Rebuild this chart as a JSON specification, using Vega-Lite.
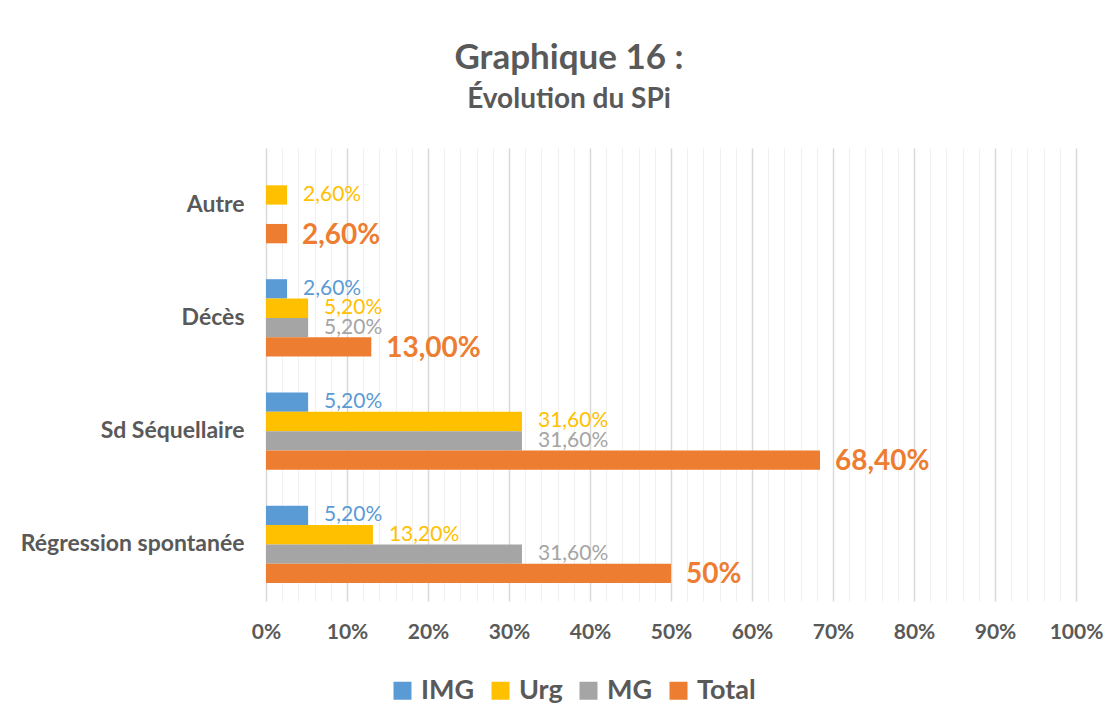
{
  "$schema": "https://vega.github.io/schema/vega-lite/v6.json",
  "autosize": {"type": "none"},
  "width": 810,
  "height": 453,
  "padding": {"left": 266, "top": 148, "right": 42, "bottom": 122},
  "background": "white",
  "title": {
    "text": "Graphique 16 :",
    "subtitle": "Évolution du SPi",
    "anchor": "middle",
    "dx": -102,
    "offset": 34,
    "font": "Lato",
    "fontSize": 35,
    "fontWeight": "bold",
    "color": "#595959",
    "subtitleFont": "Lato",
    "subtitleFontSize": 28,
    "subtitleFontWeight": "bold",
    "subtitleColor": "#595959",
    "subtitlePadding": 10
  },
  "data": {
    "values": [
      {"cat": "Autre", "serie": "Urg", "val": 2.6, "label": "2,60%"},
      {"cat": "Autre", "serie": "Total", "val": 2.6, "label": "2,60%"},
      {"cat": "Décès", "serie": "IMG", "val": 2.6, "label": "2,60%"},
      {"cat": "Décès", "serie": "Urg", "val": 5.2, "label": "5,20%"},
      {"cat": "Décès", "serie": "MG", "val": 5.2, "label": "5,20%"},
      {"cat": "Décès", "serie": "Total", "val": 13.0, "label": "13,00%"},
      {"cat": "Sd Séquellaire", "serie": "IMG", "val": 5.2, "label": "5,20%"},
      {"cat": "Sd Séquellaire", "serie": "Urg", "val": 31.6, "label": "31,60%"},
      {"cat": "Sd Séquellaire", "serie": "MG", "val": 31.6, "label": "31,60%"},
      {"cat": "Sd Séquellaire", "serie": "Total", "val": 68.4, "label": "68,40%"},
      {"cat": "Régression spontanée", "serie": "IMG", "val": 5.2, "label": "5,20%"},
      {"cat": "Régression spontanée", "serie": "Urg", "val": 13.2, "label": "13,20%"},
      {"cat": "Régression spontanée", "serie": "MG", "val": 31.6, "label": "31,60%"},
      {"cat": "Régression spontanée", "serie": "Total", "val": 50, "label": "50%"}
    ]
  },
  "encoding": {
    "y": {
      "field": "cat",
      "type": "nominal",
      "sort": ["Autre", "Décès", "Sd Séquellaire", "Régression spontanée"],
      "scale": {"paddingInner": 0.317, "paddingOuter": 0.1585},
      "axis": {
        "title": null,
        "domain": false,
        "ticks": false,
        "labelPadding": 22,
        "labelFont": "Lato",
        "labelFontSize": 23,
        "labelFontWeight": "bold",
        "labelColor": "#595959",
        "labelLimit": 400
      }
    },
    "yOffset": {
      "field": "serie",
      "type": "nominal",
      "scale": {"domain": ["IMG", "Urg", "MG", "Total"], "paddingInner": 0, "paddingOuter": 0}
    },
    "x": {
      "field": "val",
      "type": "quantitative",
      "scale": {"domain": [0, 100], "nice": false},
      "axis": {
        "title": null,
        "values": [0,2,4,6,8,10,12,14,16,18,20,22,24,26,28,30,32,34,36,38,40,42,44,46,48,50,52,54,56,58,60,62,64,66,68,70,72,74,76,78,80,82,84,86,88,90,92,94,96,98,100],
        "labelExpr": "datum.value % 10 === 0 ? datum.value + '%' : ''",
        "domain": false,
        "ticks": false,
        "grid": true,
        "gridColor": {"condition": {"test": "datum.value % 10 === 0", "value": "#d9d9d9"}, "value": "#f0f0f0"},
        "gridWidth": {"condition": {"test": "datum.value % 10 === 0", "value": 1.5}, "value": 1},
        "labelPadding": 20,
        "labelFont": "Lato",
        "labelFontSize": 21,
        "labelFontWeight": "bold",
        "labelColor": "#595959",
        "labelFlush": false
      }
    },
    "color": {
      "field": "serie",
      "type": "nominal",
      "scale": {"domain": ["IMG", "Urg", "MG", "Total"], "range": ["#5B9BD5", "#FFC000", "#A5A5A5", "#ED7D31"]},
      "legend": {
        "title": null,
        "orient": "none",
        "direction": "horizontal",
        "legendX": 123,
        "legendY": 529,
        "symbolType": "square",
        "symbolSize": 324,
        "symbolStrokeWidth": 0,
        "labelFont": "Lato",
        "labelFontSize": 27,
        "labelFontWeight": "bold",
        "labelColor": "#595959",
        "columnPadding": 12,
        "labelOffset": 5
      }
    }
  },
  "layer": [
    {"mark": {"type": "bar"}},
    {
      "transform": [{"filter": "datum.serie !== 'Total'"}],
      "mark": {"type": "text", "align": "left", "baseline": "middle", "dx": 16, "font": "Lato", "fontSize": 21},
      "encoding": {"text": {"field": "label"}}
    },
    {
      "transform": [{"filter": "datum.serie === 'Total'"}],
      "mark": {"type": "text", "align": "left", "baseline": "middle", "dx": 15, "dy": 2, "font": "Lato", "fontSize": 28, "fontWeight": "bold"},
      "encoding": {"text": {"field": "label"}}
    }
  ],
  "config": {"view": {"stroke": null}}
}
